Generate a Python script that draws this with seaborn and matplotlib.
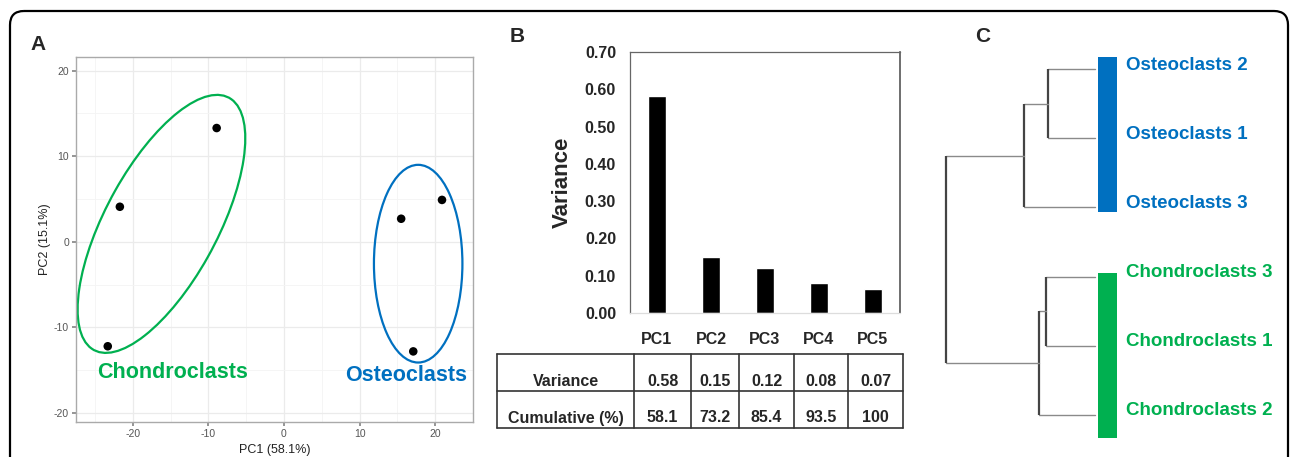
import numpy as np
import pandas as pd
import matplotlib.pyplot as plt
import seaborn as sns
from matplotlib.patches import Ellipse, FancyBboxPatch, Rectangle

# ---------------- data ----------------
# A: PCA scores
pc1 = [-8.9, -21.7, -23.3, 15.5, 20.9, 17.1]
pc2 = [13.3, 4.1, -12.2, 2.7, 4.9, -12.8]
cell_type = ['Chondroclasts'] * 3 + ['Osteoclasts'] * 3

# ellipses (centre x, centre y, width, height, angle)
chondro_ellipse = (-16.2, 2.1, 34.5, 14.5, 57.6)
osteo_ellipse = (17.75, -2.55, 11.7, 23.1, 0.0)

# B: variance explained
pcs = ['PC1', 'PC2', 'PC3', 'PC4', 'PC5']
variance = [0.581, 0.151, 0.122, 0.081, 0.065]
variance_txt = ['0.58', '0.15', '0.12', '0.08', '0.07']
cumulative_txt = ['58.1', '73.2', '85.4', '93.5', '100']

# C: hierarchical clustering (leaf order top -> bottom)
leaf_names = ['Osteoclasts 2', 'Osteoclasts 1', 'Osteoclasts 3',
              'Chondroclasts 3', 'Chondroclasts 1', 'Chondroclasts 2']
merge_left = [0, 6, 3, 8, 7]
merge_right = [1, 2, 4, 5, 9]
merge_height = [0.317, 0.476, 0.328, 0.373, 1.0]

GREEN = '#00B050'
BLUE = '#0070C0'

sns.set_theme(style='white')
plt.rcParams['font.family'] = ['Liberation Sans', 'DejaVu Sans']
plt.rcParams['axes.unicode_minus'] = False  # ggplot style hyphen minus

fig = plt.figure(figsize=(12.9, 4.57), dpi=100)
W, H = 1290, 457


def px_axes(x0, y0, x1, y1):
    # axes from pixel box (top-left origin)
    return fig.add_axes([x0 / W, 1 - y1 / H, (x1 - x0) / W, (y1 - y0) / H])


# overlay for border, panel letters and table
over = fig.add_axes([0, 0, 1, 1], zorder=0)
over.set_xlim(0, W)
over.set_ylim(H, 0)
over.axis('off')
over.patch.set_alpha(0)
over.add_patch(FancyBboxPatch((10, 11), 1278, 480, boxstyle='round,pad=0,rounding_size=14',
                              fill=False, ec='black', lw=1.6, clip_on=False))
for letter, (lx, ly) in zip('ABC', [(38, 45), (517, 37), (983, 37)]):
    over.text(lx, ly, letter, fontsize=15, fontweight='bold', ha='center', va='center')

# ---------------- A: PCA ----------------
axA = px_axes(76, 57, 473, 422)
df_pca = pd.DataFrame({'PC1': pc1, 'PC2': pc2, 'type': cell_type})
sns.scatterplot(data=df_pca, x='PC1', y='PC2', color='black', s=38, edgecolor='none',
                legend=False, ax=axA, zorder=3)
for (cx, cy, w, h, ang), col in [(chondro_ellipse, GREEN), (osteo_ellipse, BLUE)]:
    axA.add_patch(Ellipse((cx, cy), w, h, angle=ang, fill=False, ec=col, lw=1.6, zorder=2))
axA.set_xlim(-27.5, 25)
axA.set_ylim(-21.05, 21.6)
axA.set_xticks([-20, -10, 0, 10, 20])
axA.set_yticks([-20, -10, 0, 10, 20])
axA.set_xticks([-25, -15, -5, 5, 15, 25], minor=True)
axA.set_yticks([-15, -5, 5, 15], minor=True)
axA.grid(True, which='major', color='#ebebeb', lw=0.9)
axA.grid(True, which='minor', color='#f4f4f4', lw=0.6)
axA.set_axisbelow(True)
for sp in axA.spines.values():
    sp.set_color('#aaaaaa')
    sp.set_linewidth(1.0)
axA.tick_params(which='major', length=3, color='#888888', labelsize=7.5, labelcolor='#555555',
                pad=2, left=True, bottom=True)
axA.tick_params(which='minor', length=0)
axA.set_xlabel('PC1 (58.1%)', fontsize=9, color='#222222')
axA.set_ylabel('PC2 (15.1%)', fontsize=9, color='#222222')
axA.xaxis.set_label_coords(0.5, -0.077)
axA.xaxis.label.set_va('center')
axA.yaxis.set_label_coords(-0.078, 0.5)
axA.yaxis.label.set_va('center')
axA.text(-24.7, -15.3, 'Chondroclasts', color=GREEN, fontsize=15.5, fontweight='bold',
         ha='left', va='center')
axA.text(8.06, -15.6, 'Osteoclasts', color=BLUE, fontsize=15.5, fontweight='bold',
         ha='left', va='center')

# ---------------- B: variance bars ----------------
axB = px_axes(630, 52, 900, 313)
df_var = pd.DataFrame({'pc': pcs, 'variance': variance})
sns.barplot(data=df_var, x='pc', y='variance', color='black', width=0.33,
            saturation=1, ax=axB)
axB.set_xlim(-0.5, 4.5)
axB.set_ylim(0, 0.70)
axB.set_yticks(np.arange(0, 0.71, 0.1))
axB.set_yticklabels([f'{v:.2f}' for v in np.arange(0, 0.71, 0.1)])
axB.tick_params(axis='both', length=0, labelsize=11.5)
axB.tick_params(axis='y', pad=10)
axB.tick_params(axis='x', pad=14)
for lab in axB.get_xticklabels() + axB.get_yticklabels():
    lab.set_fontweight('bold')
spine_cols = {'left': '#666666', 'top': '#666666', 'right': '#555555', 'bottom': '#dddddd'}
for name, sp in axB.spines.items():
    sp.set_visible(True)
    sp.set_color(spine_cols[name])
    sp.set_linewidth(1.2 if name == 'right' else 0.9)
axB.set_xlabel('')
axB.set_ylabel('Variance', fontsize=16, fontweight='bold')
axB.yaxis.set_label_coords(-0.252, 0.5)
axB.yaxis.label.set_va('center')

# table under the bars
col_edges = [497, 634, 691, 739, 794, 848, 903]
row_edges = [354, 391, 428]
for y in row_edges:
    over.plot([col_edges[0], col_edges[-1]], [y, y], color='#333333', lw=1.2)
for x in col_edges:
    over.plot([x, x], [row_edges[0], row_edges[-1]], color='#333333', lw=1.2)
for r, (rname, vals) in enumerate([('Variance', variance_txt), ('Cumulative (%)', cumulative_txt)]):
    ty = row_edges[r + 1] - 10
    over.text((col_edges[0] + col_edges[1]) / 2, ty, rname, fontsize=11.5, fontweight='bold',
              ha='center', va='center')
    for c, v in enumerate(vals):
        over.text((col_edges[c + 1] + col_edges[c + 2]) / 2, ty, v, fontsize=11.5,
                  fontweight='bold', ha='center', va='center')

# ---------------- C: dendrogram ----------------
axC = px_axes(930, 40, 1290, 450)
axC.set_xlim(1.105, -1.306)
axC.set_ylim(5.51, -0.424)
axC.axis('off')
node_y = {i: float(i) for i in range(len(leaf_names))}
node_h = {i: 0.0 for i in range(len(leaf_names))}
for k, (a, b, h) in enumerate(zip(merge_left, merge_right, merge_height)):
    nid = len(leaf_names) + k
    for child in (a, b):
        axC.plot([node_h[child], h], [node_y[child], node_y[child]], color='#8a8a8a', lw=1.0)
    axC.plot([h, h], [node_y[a], node_y[b]], color='#444444', lw=1.6, solid_capstyle='butt')
    node_y[nid] = (node_y[a] + node_y[b]) / 2
    node_h[nid] = h

axC.add_patch(Rectangle((-0.022, -0.18), -0.123, 2.24, color=BLUE, lw=0))
axC.add_patch(Rectangle((-0.022, 2.95), -0.123, 2.38, color=GREEN, lw=0))
for i, name in enumerate(leaf_names):
    axC.text(-0.205, i - 0.06, name, color=BLUE if name.startswith('Osteo') else GREEN,
             fontsize=13.5, fontweight='bold', ha='left', va='center')

fig.savefig('out.png', dpi=100)
